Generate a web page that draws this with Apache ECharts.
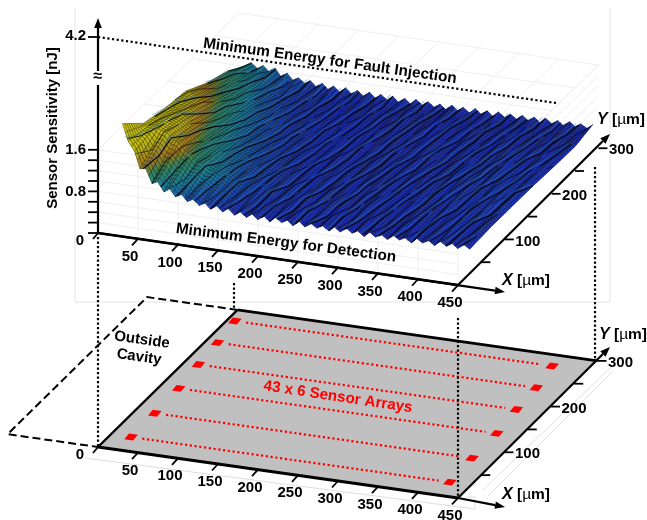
<!DOCTYPE html>
<html><head><meta charset="utf-8">
<style>html,body{margin:0;padding:0;background:#fff}#c{width:647px;height:520px}</style>
<script src="https://cdn.jsdelivr.net/npm/echarts@6/dist/echarts.min.js"></script></head>
<body><div id="c"></div>
<script>
// ---------- data ----------
const xTicks=[50,100,150,200,250,300,350,400,450];
const yTicksAll=[50,100,150,200,250,300];
const yTickLabels=[100,200,300];
const zMinorTicks=[0,0.2,0.4,0.6,0.8,1.0,1.2,1.4,1.6];
const zTickLabels=[1.6,0.8];
const meshY=[25,70,115,160,205,250,288];
const meshX=[16,23,31,38,45,53,60,68,75,82,90,97,104,112,119,126,134,141,148,156,163,171,178,185,193,200,207,215,222,229,237,244,252,259,266,274,281,288,296,303,310,318,325,332,340,347,355,362,369,377,384,391,399,406,413,421,428,435,443,450];
const sensY25=[1.92,1.60,1.42,1.10,1.12,.85,.90,.72,.80,.66,.72,.60,.66,.56,.62,.52,.60,.50,.58,.47,.55,.46,.54,.45,.53,.44,.54,.46,.52,.43,.53,.44,.52,.45,.51,.43,.52,.44,.53,.45,.51,.42,.52,.44,.50,.43,.52,.45,.51,.43,.53,.46,.52,.44,.54,.46,.53,.45,.54,.47];
const sensY70=[1.53,1.50,1.50,1.44,1.42,1.30,1.26,1.12,1.06,.94,.92,.82,.80,.73,.72,.66,.67,.60,.62,.56,.60,.53,.58,.52,.56,.51,.55,.50,.55,.49,.55,.50,.54,.49,.53,.48,.54,.49,.55,.49,.53,.48,.54,.49,.52,.47,.53,.49,.54,.48,.55,.50,.54,.49,.56,.50,.55,.49,.55,.50];
const sensY115=[1.42,1.40,1.40,1.36,1.30,1.20,1.12,1.00,.95,.86,.82,.76,.73,.69,.67,.62,.62,.58,.58,.54,.56,.52,.55,.50,.54,.49,.53,.50,.53,.48,.53,.49,.52,.48,.54,.49,.52,.47,.53,.48,.54,.49,.52,.48,.53,.47,.54,.50,.55,.49,.56,.50,.54,.49,.56,.51,.58,.50,.56,.50];
const sensY160=[1.36,1.32,1.26,1.20,1.10,1.02,.94,.86,.82,.76,.71,.67,.65,.62,.60,.57,.57,.54,.54,.52,.53,.50,.52,.49,.52,.48,.53,.49,.52,.47,.52,.48,.53,.48,.52,.48,.53,.49,.54,.48,.53,.48,.52,.48,.53,.48,.55,.50,.56,.51,.57,.51,.58,.52,.57,.51,.56,.51,.55,.50];
const sensY205=[1.12,1.10,1.04,.98,.94,.88,.82,.76,.72,.68,.66,.62,.60,.57,.56,.54,.54,.52,.52,.50,.52,.49,.51,.48,.51,.48,.51,.47,.52,.48,.51,.47,.52,.48,.51,.47,.52,.48,.53,.48,.52,.47,.53,.48,.52,.48,.53,.49,.54,.50,.54,.49,.55,.50,.54,.49,.54,.49,.53,.48];
const sensY250=[.96,.94,.88,.84,.80,.74,.70,.66,.62,.59,.58,.55,.54,.52,.52,.50,.51,.49,.51,.48,.51,.47,.50,.47,.50,.46,.51,.47,.50,.46,.51,.47,.50,.46,.50,.47,.51,.47,.51,.47,.50,.46,.51,.47,.51,.47,.51,.47,.52,.47,.52,.48,.52,.48,.51,.47,.52,.47,.51,.47];
const sensY288=[.72,.80,.70,.78,.68,.76,.62,.70,.58,.64,.55,.62,.52,.60,.50,.58,.48,.58,.48,.56,.47,.56,.46,.55,.46,.55,.45,.54,.45,.55,.46,.54,.45,.53,.44,.54,.45,.53,.44,.54,.45,.53,.44,.54,.45,.53,.45,.54,.46,.54,.45,.55,.46,.54,.46,.55,.47,.54,.47,.56];
const sensorRowY=[28,80,134,185,232,278];
const sensorRowStartX=[25,24.5,23,18,14.5,9.5];
const sensorRowEndX=[423.5,421,420.5,415.5,413,406];
const foldStartX=[-42,-31,-21,-10,0,11,21,32,42,53,63,74,84,95,105,116,126,137,147,158,168,179,189,200,210,221,231,242,252,263,273,284,294,305,315,326,336,347,357,368,378,389,399,410,420,431,441];
const foldStationY=[25,47,70,92,115,137,160,182,205,227,250,269,288];
const foldShift=[0,5,10,15,19,24,29,33,38,42,47,51,54];
const foldWiggle=[
 [0,1.5,-1,2,0,-2,1,2.5,-1,1,-2,1,0],
 [0,-2,1,-1,2.5,0,-2,1,2,-1.5,1,-1,1],
 [1,0,2,-1.5,-2,1,2,-1,0,2,-1,1.5,-1],
 [0,2.5,0,-2,1,2,-1,-2,1.5,0,2,-1,1]];
const foldAlpha=[.95,.6,.85,.5];
const foldDash=[null,[70,7],[40,5,80,9],[55,12]];
const heights=[sensY25,sensY70,sensY115,sensY160,sensY205,sensY250,sensY288];
// ---------- projections ----------
const upperPanel={o:[98,233],x:[.8,.1156],y:[.468,-.456],z:52};
const lowerPanel={o:[98,447],x:[.8,.1133],y:[.465,-.457],z:52};
const P=(p,X,Y,Z=0)=>[p.o[0]+p.x[0]*X+p.y[0]*Y, p.o[1]+p.x[1]*X+p.y[1]*Y-p.z*Z];
const items=[];
const line=(pts,stroke,lw,dash)=>items.push({t:'l',pts,stroke,lw,dash});
const poly=(pts,fill,stroke,lw)=>items.push({t:'p',pts,fill,stroke,lw});
const text=(s,x,y,o={})=>items.push(Object.assign({t:'t',s,x,y},o));
const arrow=(a,b,c='#000',lw=2.2,len=10,w=3.8)=>{
  const d=Math.hypot(b[0]-a[0],b[1]-a[1]),u=[(b[0]-a[0])/d,(b[1]-a[1])/d];
  const m=[b[0]-u[0]*len,b[1]-u[1]*len];
  line([a,m],c,lw);
  poly([b,[m[0]-u[1]*w,m[1]+u[0]*w],[m[0]+u[1]*w,m[1]-u[0]*w]],c);
};
// ---------- faint frame and walls ----------
const FG='#efefef';
line([[75,8],[75,302],[610,302],[610,8]],'#e4e4e4',1);
[0,.2,.4,.6,.8,1,1.2,1.4,1.6].forEach(z=>{
  line([P(upperPanel,0,0,z),P(upperPanel,450,0,z)],FG,1);
  if(z>=.8)line([P(upperPanel,450,0,z),P(upperPanel,450,300,z)],FG,1);
});
line([P(upperPanel,0,0,1.6),P(upperPanel,0,300,1.6)],FG,1);
line([P(upperPanel,0,300,1.6),P(upperPanel,450,300,1.6)],FG,1);
xTicks.forEach(x=>{
  line([P(upperPanel,x,0,0),P(upperPanel,x,0,1.6)],FG,1);
  line([P(upperPanel,x,0,1.6),P(upperPanel,x,300,1.6)],FG,1);
});
yTicksAll.slice(0,5).forEach(y=>line([P(upperPanel,0,y,1.6),P(upperPanel,450,y,1.6)],FG,1));
// ghost box under lower panel
line([[85,458],[475,509],[475,497],[467,497]],'#dedede',1);
line([[483,490],[610,368]],'#e2e2e2',1);
line([[488,496],[612,372]],'#e2e2e2',1);
// ---------- lower panel ----------
const L=(X,Y)=>P(lowerPanel,X,Y);
line([L(0,300),L(-113,300),L(-113,0),L(0,0)],'#000',2,[8,4]);
poly([L(0,0),L(450,0),L(450,300),L(0,300)],'#c0c0c0');
sensorRowY.forEach((y,i)=>{
  const a=sensorRowStartX[i],b=sensorRowEndX[i];
  line([L(a+14,y),L(b-14,y)],'#ff0000',2.2,[2.2,2.6]);
  [a,b].forEach(x=>poly([L(x-5,y-6),L(x+6,y-6),L(x+5,y+6),L(x-6,y+6)],'#ff0000'));
});
line([L(0,0),L(450,0)],'#000',3);
line([L(0,0),L(0,300)],'#000',2.4);
line([L(0,300),L(450,300)],'#000',2.6);
arrow(L(450,0),[505,507]);
arrow(L(450,0),[610,347]);
// ---------- upper panel surface ----------
const palette=[[.35,20,28,150],[.5,28,46,182],[.65,25,84,172],[.8,26,128,150],[1,50,132,92],[1.08,115,125,45],[1.16,165,120,30],[1.28,172,155,25],[1.42,192,186,15],[1.9,212,205,15]];
function colorOf(z,k=1){
  let i=0; while(i<palette.length-2&&z>palette[i+1][0])i++;
  const a=palette[i],b=palette[i+1],t=Math.max(0,Math.min(1,(z-a[0])/(b[0]-a[0])));
  return 'rgb('+[1,2,3].map(n=>Math.round((a[n]+(b[n]-a[n])*t)*k)).join(',')+')';
}
const H=(r,c)=>{const v=heights[r];return v[Math.min(c,v.length-1)];};
const SUBX=2,SUBY=10;
for(let r=meshY.length-2;r>=0;r--){
  for(let c=0;c<meshX.length-1;c++){
    for(let sy=SUBY-1;sy>=0;sy--)for(let sx=0;sx<SUBX;sx++){
      const v=(u,w)=>{
        const z0=H(r,c)+(H(r,c+1)-H(r,c))*u, z1=H(r+1,c)+(H(r+1,c+1)-H(r+1,c))*u;
        return [meshX[c]+(meshX[c+1]-meshX[c])*u, meshY[r]+(meshY[r+1]-meshY[r])*w, z0+(z1-z0)*w];
      };
      const q=[v(sx/SUBX,sy/SUBY),v((sx+1)/SUBX,sy/SUBY),v((sx+1)/SUBX,(sy+1)/SUBY),v(sx/SUBX,(sy+1)/SUBY)];
      const zm=(q[0][2]+q[1][2]+q[2][2]+q[3][2])/4;
      poly(q.map(p=>P(upperPanel,p[0],p[1],p[2])),colorOf(zm),colorOf(zm,.42),.6);
    }
  }
}
function zAt(X,Y){
  let r=0; while(r<meshY.length-2&&Y>meshY[r+1])r++;
  let c=0; while(c<meshX.length-2&&X>meshX[c+1])c++;
  const t=Math.max(0,(X-meshX[c])/(meshX[c+1]-meshX[c])),w=(Y-meshY[r])/(meshY[r+1]-meshY[r]);
  const a=H(r,c)+(H(r,c+1)-H(r,c))*t,b=H(r+1,c)+(H(r+1,c+1)-H(r+1,c))*t;
  return a+(b-a)*w;
}
foldStartX.forEach((x0,f)=>{
  const w=foldWiggle[f%4];
  const pts=[];
  foldStationY.forEach((y,r)=>{
    const X=x0+foldShift[r]+w[r];
    if(X>=meshX[0]&&X<=450)pts.push(P(upperPanel,X,y,zAt(X,y)));
  });
  if(pts.length>1){
    if(f%2===0)line(pts.map(p=>[p[0]-2.4,p[1]-1.4]),'rgba(40,130,190,.38)',1.3);
    line(pts,'rgba(0,0,10,'+foldAlpha[f%4]+')',1.1,foldDash[f%4]);
  }
});
// ---------- upper panel axes ----------
const T=(X,Y,Z=0)=>P(upperPanel,X,Y,Z);
line([[98,37],[556,103]],'#000',2.2,[2.2,2.5]);
line([T(0,0),T(450,0)],'#000',2.4);
arrow(T(0,0),[505,292]);
arrow(T(450,0),[610,134]);
arrow([98,233],[98,18]);
poly([[92,71],[104,71],[104,85],[92,85]],'#fff');
text('≈',98,77,{size:16,align:'center'});
zMinorTicks.forEach(z=>line([[88,233-52*z],[98,233-52*z]],'#000',1.8));
line([[88,37],[98,37]],'#000',1.8);
text('4.2',86,36,{align:'right'});
zTickLabels.forEach(z=>text(z.toFixed(1),86,233-52*z,{align:'right'}));
text('0',80,241,{align:'center'});
text('Sensor Sensitivity [nJ]',53,128,{size:15,align:'center',rot:90});
// ---------- ticks and labels for both panels ----------
[upperPanel,lowerPanel].forEach(p=>{
  const a=P(p,0,0); line([a,[a[0]-5,a[1]+6]],'#000',1.8);
  xTicks.forEach(x=>{
    const q=P(p,x,0);
    line([q,[q[0]-6,q[1]+6.5]],'#000',1.8);
    text(String(x),q[0]-8,q[1]+18,{align:'center'});
  });
  yTicksAll.forEach(y=>{
    const q=P(p,450,y);
    line([q,[q[0]+9,q[1]]],'#000',1.8);
  });
  yTickLabels.forEach(y=>{
    const q=P(p,450,y);
    text(String(y),q[0]+23,q[1]+2,{align:'center'});
  });
});
text('0',80,455,{align:'center'});
const unit=(ax,x,y)=>items.push({t:'u',ax,x,y});
unit('Y',597,120);unit('X',502,281);unit('Y',599,335);unit('X',502,495);
text('Minimum Energy for Fault Injection',330,61,{size:15.3,align:'center',rot:-8});
text('Minimum Energy for Detection',286,243,{size:15.3,align:'center',rot:-7.5});
text('Outside',142,340,{size:15,align:'center',rot:-8});
text('Cavity',139,357,{size:15,align:'center',rot:-8});
text('43 x 6 Sensor Arrays',338,397,{size:15.2,align:'center',rot:-8.5,fill:'#ff0000'});
// vertical connectors
[[98,237,447],[234,283,309],[458,318,498],[595,167,360]].forEach(v=>line([[v[0],v[1]],[v[0],v[2]]],'#000',2.2,[2.2,2.3]));
// ---------- chart ----------
const FF='"Liberation Sans",Arial,sans-serif';
function render(params,api){
  const it=items[params.dataIndex];
  const c=p=>api.coord(p);
  if(it.t==='l')return{type:'polyline',silent:true,shape:{points:it.pts.map(c)},style:{fill:null,stroke:it.stroke,lineWidth:it.lw,lineDash:it.dash||null}};
  if(it.t==='p')return{type:'polygon',silent:true,shape:{points:it.pts.map(c)},style:{fill:it.fill,stroke:it.stroke||null,lineWidth:it.lw||0}};
  const o=c([it.x,it.y]);
  if(it.t==='u')return{type:'text',silent:true,x:o[0],y:o[1],style:{text:'{i|'+it.ax+'} [{u|µ}m]',fontFamily:FF,fontWeight:'bold',fontSize:15.5,fill:'#000',align:'left',verticalAlign:'middle',
    rich:{i:{fontStyle:'italic',fontWeight:'bold',fontSize:16,fontFamily:FF},u:{fontWeight:'normal',fontSize:15.5,fontFamily:FF}}}};
  return{type:'text',silent:true,x:o[0],y:o[1],rotation:(it.rot||0)*Math.PI/180,style:{text:it.s,fontFamily:FF,fontWeight:'bold',fontSize:it.size||15,fill:it.fill||'#000',align:it.align||'center',verticalAlign:'middle'}};
}
const chart=echarts.init(document.getElementById('c'),null,{renderer:'canvas'});
chart.setOption({
  animation:false,
  backgroundColor:'#fff',
  grid:{left:0,right:0,top:0,bottom:0},
  xAxis:{type:'value',min:0,max:647,show:false},
  yAxis:{type:'value',min:0,max:520,inverse:true,show:false},
  series:[{type:'custom',coordinateSystem:'cartesian2d',renderItem:render,progressive:0,clip:false,silent:true,
    data:items.map((_,i)=>[i,0]),encode:{x:0,y:1}}]
});
</script></body></html>
